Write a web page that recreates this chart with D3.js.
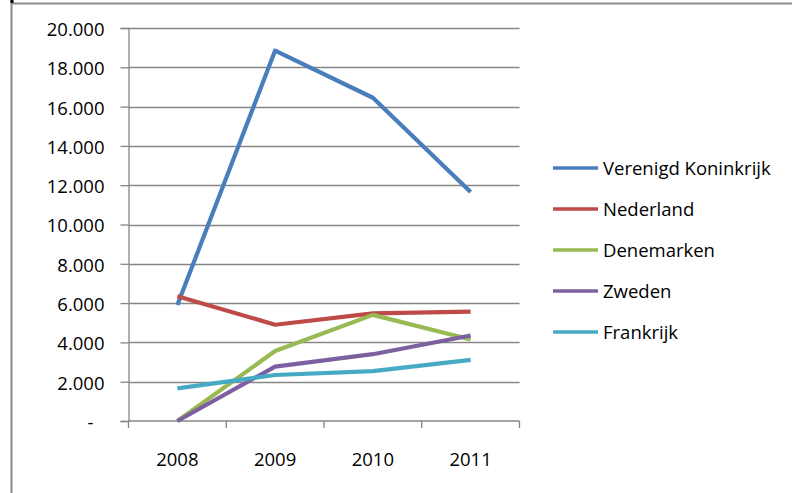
<!DOCTYPE html>
<html>
<head>
<meta charset="utf-8">
<script src="https://cdn.jsdelivr.net/npm/d3@7"></script>
<style>
  html, body { margin: 0; padding: 0; background: #fff; }
  svg { display: block; }
  text { font-family: "Open Sans", "Noto Sans", sans-serif; fill: #000; }
</style>
</head>
<body>
<svg id="chart" width="792" height="493"></svg>
<script>
const years = ["2008", "2009", "2010", "2011"];
const seriesNames = ["Verenigd Koninkrijk", "Nederland", "Denemarken", "Zweden", "Frankrijk"];
const seriesColors = ["#4A7EBB", "#BE4B48", "#98B954", "#7D60A0", "#46AAC5"];
const verenigdKoninkrijk = [5900, 18850, 16450, 11650];
const nederland = [6350, 4900, 5480, 5570];
const denemarken = [0, 3560, 5400, 4150];
const zweden = [0, 2770, 3400, 4350];
const frankrijk = [1660, 2340, 2540, 3110];
const seriesValues = [verenigdKoninkrijk, nederland, denemarken, zweden, frankrijk];
const yTicks = [0, 2000, 4000, 6000, 8000, 10000, 12000, 14000, 16000, 18000, 20000];

const svg = d3.select("#chart");
const gridColor = "#868686";

// frame
svg.append("line").attr("x1", 11.5).attr("x2", 11.5).attr("y1", 0).attr("y2", 493)
  .attr("stroke", "#8a8a8a").attr("stroke-width", 2);
svg.append("line").attr("x1", 11).attr("x2", 792).attr("y1", 3.5).attr("y2", 3.5)
  .attr("stroke", "#8a8a8a").attr("stroke-width", 2);
svg.append("rect").attr("x", 10.5).attr("y", 0).attr("width", 3).attr("height", 3).attr("fill", "#000");

const x = d3.scaleBand().domain(years).range([128.5, 519.5]).paddingInner(0).paddingOuter(0);
const y = d3.scaleLinear().domain([0, 20000]).range([421, 28]);

const loc = d3.formatLocale({decimal: ",", thousands: ".", grouping: [3], currency: ["€", ""]});
const fmt = v => v === 0 ? "-" : loc.format(",.0f")(v);

// gridlines
svg.append("g").selectAll("line").data(yTicks.filter(d => d > 0)).join("line")
  .attr("x1", x.range()[0]).attr("x2", x.range()[1])
  .attr("y1", d => Math.round(y(d)) + 0.5).attr("y2", d => Math.round(y(d)) + 0.5)
  .attr("stroke", gridColor).attr("stroke-width", 1.3);

// y axis
const yAxis = svg.append("g").attr("transform", `translate(${x.range()[0]},0)`)
  .call(d3.axisLeft(y).tickValues(yTicks).tickSize(8).tickPadding(16).tickFormat(fmt));
yAxis.select(".domain").attr("stroke", gridColor).attr("stroke-width", 1.3);
yAxis.selectAll(".tick line").attr("stroke", gridColor).attr("stroke-width", 1.3);
yAxis.selectAll(".tick text").attr("font-size", "18.5px").attr("fill", "#000")
  .attr("dy", "0.4em").style("font-family", "'Open Sans', sans-serif")
  .attr("dx", d => d === 0 ? -11 : 0);

// x axis
const xAxisG = svg.append("g").attr("transform", `translate(0,${y(0)})`);
xAxisG.call(d3.axisBottom(x).tickSize(0).tickPadding(32));
xAxisG.select(".domain").remove();
xAxisG.append("line").attr("x1", x.range()[0]).attr("x2", x.range()[1]).attr("y1", 0).attr("y2", 0)
  .attr("stroke", gridColor).attr("stroke-width", 1.3);
const edges = years.map(d => x(d)).concat([x.range()[1]]);
xAxisG.selectAll(".edge").data(edges).join("line").attr("class", "edge")
  .attr("x1", d => d).attr("x2", d => d).attr("y1", 0).attr("y2", 7)
  .attr("stroke", gridColor).attr("stroke-width", 1.3);
xAxisG.selectAll(".tick text").attr("font-size", "18.5px").attr("fill", "#000")
  .style("font-family", "'Open Sans', sans-serif");

// lines
const line = d3.line().x((d, i) => x(years[i]) + x.bandwidth() / 2).y(d => y(d));
seriesValues.forEach((vals, i) => {
  svg.append("path").datum(vals).attr("d", line)
    .attr("fill", "none").attr("stroke", seriesColors[i]).attr("stroke-width", 4.2)
    .attr("stroke-linejoin", "round").attr("stroke-linecap", "butt");
});

// legend
const legend = svg.append("g").attr("transform", "translate(553,168)");
seriesNames.forEach((name, i) => {
  const g = legend.append("g").attr("transform", `translate(0,${i * 41})`);
  g.append("line").attr("x1", 0).attr("x2", 45).attr("y1", 0).attr("y2", 0)
    .attr("stroke", seriesColors[i]).attr("stroke-width", 3.5);
  g.append("text").attr("x", 50).attr("y", 0).attr("dy", "0.36em")
    .attr("font-size", "18.5px").text(name);
});
</script>
</body>
</html>
